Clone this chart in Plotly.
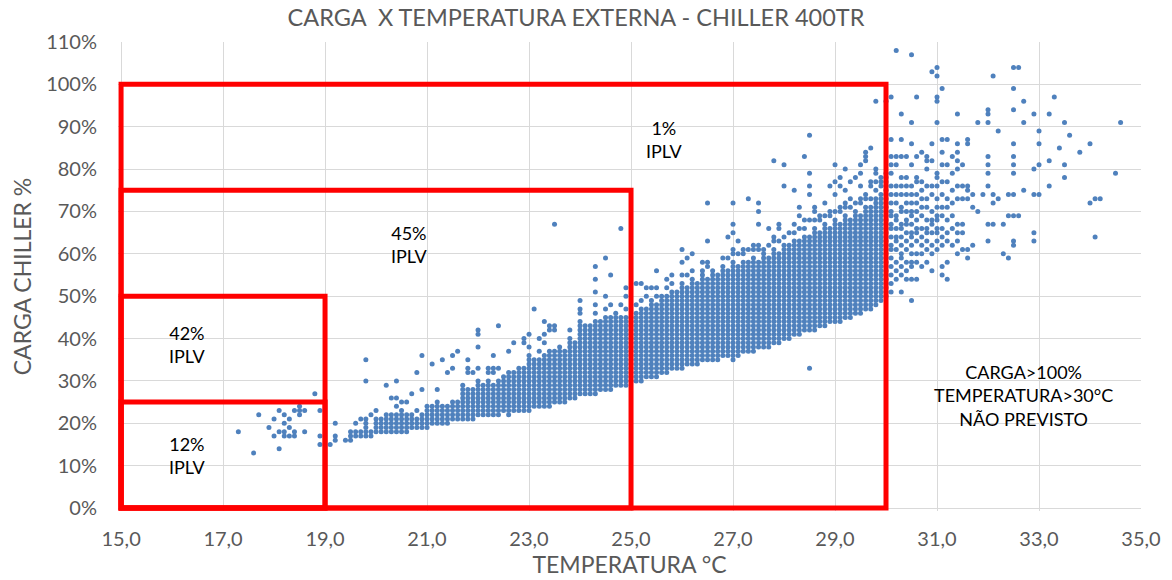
import plotly.graph_objects as go

# ---------------- data ----------------
# Dense band: for each temperature column (°C) the lowest and highest load (%)
band_temp = [19.4, 19.5, 19.6, 19.7, 19.8, 19.9, 20.0, 20.1, 20.2, 20.3, 20.4, 20.5, 20.6, 20.7, 20.8, 20.9,
             21.0, 21.1, 21.2, 21.3, 21.4, 21.5, 21.6, 21.7, 21.8, 21.9, 22.0, 22.1, 22.2, 22.3, 22.4, 22.5,
             22.6, 22.7, 22.8, 22.9, 23.0, 23.1, 23.2, 23.3, 23.4, 23.5, 23.6, 23.7, 23.8, 23.9, 24.0, 24.1,
             24.2, 24.3, 24.4, 24.5, 24.6, 24.7, 24.8, 24.9, 25.0, 25.1, 25.2, 25.3, 25.4, 25.5, 25.6, 25.7,
             25.8, 25.9, 26.0, 26.1, 26.2, 26.3, 26.4, 26.5, 26.6, 26.7, 26.8, 26.9, 27.0, 27.1, 27.2, 27.3,
             27.4, 27.5, 27.6, 27.7, 27.8, 27.9, 28.0, 28.1, 28.2, 28.3, 28.4, 28.5, 28.6, 28.7, 28.8, 28.9,
             29.0, 29.1, 29.2, 29.3, 29.4, 29.5, 29.6, 29.7, 29.8, 29.9, 30.0]
band_low = [16, 16, 17, 17, 17, 17, 18, 18, 18, 18, 18, 18, 18, 19, 19, 19,
            19, 20, 20, 20, 20, 21, 21, 21, 21, 21, 22, 22, 22, 22, 22, 23,
            22, 23, 23, 23, 23, 24, 24, 24, 24, 25, 25, 25, 26, 26, 27, 27,
            27, 27, 28, 28, 28, 29, 29, 29, 30, 30, 30, 31, 31, 31, 32, 32,
            33, 33, 33, 34, 34, 34, 35, 35, 35, 35, 36, 36, 35, 36, 37, 37,
            37, 38, 38, 38, 39, 39, 40, 40, 41, 41, 42, 42, 42, 43, 43, 44,
            44, 44, 45, 45, 46, 46, 47, 47, 48, 49, 50]
band_high = [16, 18, 18, 18, 21, 18, 21, 21, 22, 22, 22, 23, 22, 22, 21, 22,
             24, 24, 25, 24, 24, 25, 25, 29, 28, 28, 30, 29, 30, 29, 30, 31,
             32, 32, 33, 33, 36, 35, 35, 36, 37, 37, 38, 37, 40, 39, 44, 43,
             43, 44, 44, 45, 45, 46, 45, 45, 45, 46, 47, 47, 49, 48, 50, 50,
             51, 51, 53, 52, 54, 53, 55, 54, 56, 55, 57, 56, 58, 57, 58, 58,
             59, 58, 60, 59, 61, 60, 62, 62, 63, 63, 64, 64, 66, 65, 67, 66,
             68, 67, 69, 68, 70, 69, 71, 71, 73, 74, 75]

# Scattered points: temperature column and the loads seen in it
sparse_temp = [17.3, 17.6, 17.7, 17.9, 18.0, 18.1, 18.2, 18.3, 18.4, 18.5, 18.6, 18.8, 18.9, 19.1, 19.2,
               19.6, 19.7, 19.8, 19.9, 20.0, 20.2, 20.3, 20.4, 20.5, 20.6, 20.7, 20.8, 20.9, 21.1, 21.2,
               21.3, 21.4, 21.5, 21.6, 21.8, 21.9, 22.0, 22.2, 22.3, 22.4, 22.6, 22.7, 22.9, 23.0, 23.1,
               23.2, 23.3, 23.4, 23.5, 23.8, 24.0, 24.3, 24.5, 24.6, 24.8, 24.9, 25.1, 25.2, 25.3, 25.4,
               25.5, 25.7, 25.8, 26.0, 26.1, 26.2, 26.4, 26.5, 26.8, 26.9, 27.0, 27.1, 27.2, 27.3, 27.4,
               27.5, 27.6, 27.7, 27.8, 27.9, 28.0, 28.1, 28.2, 28.3, 28.4, 28.5, 28.6, 28.7, 28.8, 28.9,
               29.0, 29.1, 29.2, 29.3, 29.4, 29.5, 29.6, 29.7, 29.8, 29.9, 30.0,
               30.1, 30.2, 30.3, 30.4, 30.5, 30.6, 30.7, 30.8, 30.9, 31.0, 31.1, 31.2, 31.3, 31.4, 31.5,
               31.6, 31.7, 31.8, 31.9, 32.0, 32.1, 32.2, 32.3, 32.4, 32.5, 32.6, 32.7, 32.9, 33.0, 33.2,
               33.3, 33.4, 33.5, 33.6, 33.8, 34.0, 34.1, 34.2, 34.5, 34.6]
sparse_loads = [
    [18], [13], [22], [19], [21, 17], [23, 18, 14], [22, 20, 18, 17], [21, 19, 17], [23, 18, 17],
    [24, 23, 22], [23, 18], [27], [23, 17, 15], [15], [20, 17, 16],
    [20], [21], [35, 30], [22], [23], [29], [26], [30, 26, 24], [25], [25], [27], [32, 23], [36, 28],
    [34], [28],
    [35], [32], [36, 33], [37], [35, 33, 32], [32], [42, 41, 38, 33], [33, 32], [36, 33, 32], [43, 33],
    [37], [39], [40, 39], [41, 38], [47],
    [40, 37], [44, 41, 39], [43, 42], [67, 43, 42], [42], [49, 47, 46], [57, 54, 51, 48, 46], [59, 50, 47],
    [55, 48], [66, 48], [52, 50, 47], [53, 48], [53, 49], [52, 50], [52],
    [56, 52, 50], [54, 52], [55, 53], [61, 58, 55], [59, 55], [60, 56], [58, 56], [72, 63, 58, 57], [59],
    [64, 59], [72, 67, 65, 61, 60], [63, 60], [61, 60], [73, 61], [62, 61],
    [72, 70, 67, 62, 61], [61], [66, 62], [82, 64, 63], [67, 66, 63], [81, 76, 64], [65], [75, 67, 65],
    [71, 69, 66], [83, 68, 66], [88, 79, 76, 74, 68, 33], [71, 70, 68], [69, 68], [72, 69], [76, 70, 69],
    [81, 77, 74, 70], [78, 76, 71, 70], [80, 75, 72, 71], [77, 73, 71], [78, 72], [81, 79, 76, 73, 72],
    [84, 83, 82, 74, 73], [85, 77, 76, 73], [96, 80, 79, 77, 75], [78, 77, 76], [96, 79, 78, 77, 76],
    [97, 87, 83, 81, 79, 76, 74, 72, 70, 69, 67, 66, 64, 62, 61, 59, 57, 55, 53, 51],
    [108, 83, 81, 76, 74, 72, 69, 68, 66, 64, 63, 61, 58, 56, 54],
    [93, 87, 83, 78, 76, 74, 71, 70, 67, 66, 64, 62, 60, 59, 57, 55, 51],
    [83, 78, 76, 74, 72, 70, 68, 67, 65, 63, 61, 58, 56, 54],
    [107, 91, 86, 81, 76, 74, 72, 70, 69, 67, 65, 64, 62, 60, 58, 57, 54, 49],
    [97, 83, 78, 77, 74, 72, 70, 68, 66, 65, 63, 60, 58, 54],
    [84, 77, 75, 73, 71, 69, 66, 64, 62, 60, 57],
    [83, 82, 80, 76, 73, 71, 68, 66, 65, 63, 61, 58],
    [103, 86, 82, 76, 74, 70, 68, 67, 65, 62, 60, 56],
    [104, 102, 97, 96, 91, 79, 78, 76, 73, 71, 69, 68, 66, 65, 63, 61],
    [99, 87, 84, 81, 77, 74, 71, 69, 66, 64, 62, 57, 55],
    [87, 81, 77, 73, 71, 68, 65, 63, 58, 54],
    [83, 79, 75, 72, 69, 66, 62],
    [93, 86, 84, 82, 80, 76, 73, 67, 65, 63, 60],
    [81, 76, 73, 67, 65, 61],
    [87, 86, 76, 75, 73, 61, 59], [74, 71, 62], [91, 70], [74],
    [94, 93, 91, 83, 81, 79, 76, 67, 63], [102, 74, 72, 67], [89, 73], [67, 60], [74, 69, 59],
    [104, 99, 94, 86, 83, 81, 79, 74, 69, 63, 62], [104, 69], [96, 91, 75], [93, 80, 74, 65, 63],
    [89, 86, 81, 74], [93, 82, 76],
    [97], [85], [91, 81, 78], [88], [84], [86, 72], [73, 64], [73], [79], [91],
]

# Axes
x_tick_vals = [15, 17, 19, 21, 23, 25, 27, 29, 31, 33, 35]
x_tick_text = ["15,0", "17,0", "19,0", "21,0", "23,0", "25,0", "27,0", "29,0", "31,0", "33,0", "35,0"]
y_tick_vals = [0, 10, 20, 30, 40, 50, 60, 70, 80, 90, 100, 110]
y_tick_text = ["0%", "10%", "20%", "30%", "40%", "50%", "60%", "70%", "80%", "90%", "100%", "110%"]

# Red operating zones (temperature limit, load limit) starting at 15 °C / 0 %
zone_temp_max = [19, 19, 25, 30]
zone_load_max = [25, 50, 75, 100]

# Zone labels
label_text = ["12%<br>IPLV", "42%<br>IPLV", "45%<br>IPLV", "1%<br>IPLV",
              "CARGA>100%<br>TEMPERATURA>30°C<br>NÃO PREVISTO"]
label_temp = [16.3, 16.3, 20.65, 25.65, 32.7]
label_load = [12.5, 38.5, 62.3, 87.0, 26.5]

# ---------------- build the figure ----------------
xs, ys = [], []
for t, lo, hi in zip(band_temp, band_low, band_high):
    for load in range(lo, hi + 1):
        xs.append(t)
        ys.append(load)
for t, loads in zip(sparse_temp, sparse_loads):
    for load in loads:
        xs.append(t)
        ys.append(load)

FONT = "Lato"
GRAY = "#595959"
W, H = 1164, 572   # page adds an 8px body margin

fig = go.Figure()
fig.add_trace(go.Scatter(
    x=xs, y=ys, mode="markers",
    marker=dict(size=5, color="#4F81BD", line=dict(width=0)),
    showlegend=False, hoverinfo="x+y",
))

for tmax, lmax in zip(zone_temp_max, zone_load_max):
    fig.add_shape(type="rect", xref="x", yref="y", x0=15, y0=0, x1=tmax, y1=lmax,
                  line=dict(color="#FF0000", width=5), fillcolor="rgba(0,0,0,0)", layer="above")

for txt, tx, ty in zip(label_text, label_temp, label_load):
    fig.add_annotation(x=tx, y=ty, xref="x", yref="y", text=txt, showarrow=False,
                       font=dict(family=FONT, size=18, color="black"), align="center")

fig.update_layout(
    width=W, height=H,
    margin=dict(l=110, r=31, t=34, b=69, autoexpand=False),
    paper_bgcolor="white", plot_bgcolor="white",
    font=dict(family=FONT, color=GRAY),
    title=dict(text="CARGA  X TEMPERATURA EXTERNA - CHILLER 400TR",
               x=568 / W, xref="container", xanchor="center",
               y=1 - 2 / H, yref="container", yanchor="top", pad=dict(t=0, b=0),
               font=dict(family=FONT, size=23.5, color=GRAY)),
    showlegend=False,
)
fig.update_xaxes(
    range=[14.94, 35.0], tickvals=x_tick_vals, ticktext=x_tick_text,
    showgrid=True, gridcolor="#D9D9D9", gridwidth=1, zeroline=False, showline=False,
    ticks="", ticklabelstandoff=14, automargin=False,
    tickfont=dict(family=FONT, size=20, color=GRAY),
    title=dict(text="TEMPERATURA °C", font=dict(family=FONT, size=23, color=GRAY), standoff=6),
)
fig.update_yaxes(
    range=[-0.7, 110], tickvals=y_tick_vals, ticktext=y_tick_text,
    showgrid=True, gridcolor="#D9D9D9", gridwidth=1, zeroline=False, showline=False,
    ticks="", ticklabelstandoff=20, automargin=False,
    tickfont=dict(family=FONT, size=20, color=GRAY),
    title=dict(text="CARGA CHILLER %", font=dict(family=FONT, size=23, color=GRAY), standoff=12),
)

fig.write_html("out.html")
